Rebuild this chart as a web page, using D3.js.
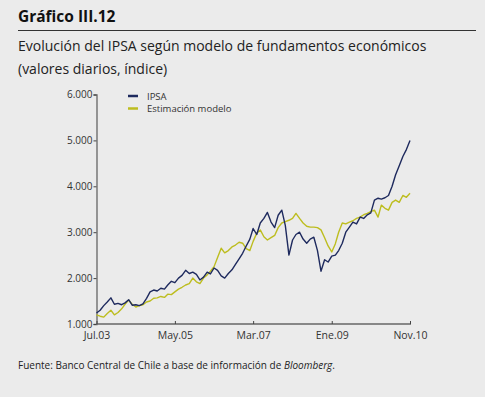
<!DOCTYPE html>
<html><head><meta charset="utf-8">
<script src="https://cdn.jsdelivr.net/npm/d3@7"></script>
<style>
html,body{margin:0;padding:0;background:#ebebeb;}
svg{display:block;font-family:"Open Sans",sans-serif;}
</style></head>
<body>
<svg id="c" width="485" height="397"></svg>
<script>
const startMonth = "2003-07";
const ipsa = [1240,1300,1400,1480,1570,1430,1450,1420,1460,1530,1410,1420,1400,1440,1560,1700,1740,1720,1780,1760,1850,1930,1900,2000,2060,2170,2100,2130,2080,1960,2020,2130,2090,2220,2170,2050,2000,2100,2180,2300,2420,2540,2700,2850,3080,2950,3200,3300,3430,3220,3100,3370,3480,3150,2500,2830,2950,3000,2850,2760,2850,2890,2600,2150,2400,2350,2480,2500,2600,2760,3000,3110,3220,3180,3330,3300,3380,3420,3700,3740,3720,3750,3800,4000,4250,4450,4650,4800,5000];
const modelo = [1200,1170,1150,1230,1300,1200,1250,1330,1430,1520,1430,1370,1400,1420,1480,1500,1560,1570,1600,1580,1650,1640,1700,1760,1800,1850,1880,2000,1920,1880,2000,2070,2150,2250,2450,2650,2550,2600,2680,2720,2780,2760,2640,2600,2800,2980,3050,2900,2830,2880,2930,3100,3200,3230,3260,3300,3410,3300,3200,3130,3110,3110,3100,3050,2880,2700,2570,2750,3000,3200,3180,3220,3250,3300,3330,3380,3410,3450,3480,3330,3590,3520,3480,3650,3700,3650,3800,3760,3850];
const seriesNames = ["IPSA","Estimación modelo"];
const yTicks = [1000,2000,3000,4000,5000,6000];
const xTickDates = ["2003-07","2005-05","2007-03","2009-01","2010-11"];
const monthAbbr = ["Ene","Feb","Mar","Abr","May","Jun","Jul","Ago","Sep","Oct","Nov","Dic"];
const colors = ["#1e2a5e","#bdbd1f"];

const svg = d3.select("#c");
const parse = d3.timeParse("%Y-%m");
const t0 = parse(startMonth);
const dates = ipsa.map((_,i)=>d3.timeMonth.offset(t0,i));

// header
svg.append("text").attr("x",18).attr("y",22).attr("font-size",15.5).attr("font-weight","bold").attr("fill","#111").text("Gráfico III.12");
svg.append("line").attr("x1",18).attr("x2",476).attr("y1",30.5).attr("y2",30.5).attr("stroke","#333").attr("stroke-width",1);
svg.append("text").attr("x",18).attr("y",51).attr("font-size",14).attr("fill","#222").text("Evolución del IPSA según modelo de fundamentos económicos");
svg.append("text").attr("x",18).attr("y",74).attr("font-size",14).attr("fill","#222").text("(valores diarios, índice)");

const x = d3.scaleTime().domain([t0, parse("2010-11")]).range([96.5,410]);
const y = d3.scaleLinear().domain([1000,6000]).range([324,94.5]);

// y axis
const ya = svg.append("g").attr("transform","translate(96.5,0)")
  .call(d3.axisLeft(y).tickValues(yTicks).tickSize(3).tickFormat(d=>d3.format(",")(d).replace(/,/g,".")));
ya.select(".domain").attr("stroke","#666").attr("stroke-width",1.3);
ya.selectAll(".tick line").attr("stroke","#444");
ya.selectAll("text").attr("font-size",10).attr("fill","#333").attr("font-family","Open Sans, sans-serif").attr("x",-4);

// x axis
const xa = svg.append("g").attr("transform","translate(0,324)")
  .call(d3.axisBottom(x).tickValues(xTickDates.map(parse)).tickSize(-3).tickPadding(8)
    .tickFormat(d=>monthAbbr[d.getMonth()]+"."+String(d.getFullYear()).slice(2)));
xa.select(".domain").attr("stroke","#666").attr("stroke-width",1.3).attr("d","M96.5,0H411");
xa.selectAll(".tick line").attr("stroke","#444");
xa.selectAll("text").attr("font-size",10.5).attr("fill","#333").attr("font-family","Open Sans, sans-serif");

const line = d3.line().x((d,i)=>x(dates[i])).y(d=>y(d));
[modelo, ipsa].forEach((s,k)=>{
  svg.append("path").datum(s).attr("d",line).attr("fill","none")
    .attr("stroke", k===0?colors[1]:colors[0]).attr("stroke-width",1.4).attr("stroke-linejoin","round");
});

// legend
seriesNames.forEach((n,i)=>{
  const ly = 96 + i*12.5;
  svg.append("line").attr("x1",128).attr("x2",138).attr("y1",ly).attr("y2",ly).attr("stroke",colors[i]).attr("stroke-width",2.5);
  svg.append("text").attr("x",147).attr("y",ly+3.5).attr("font-size",9.5).attr("fill","#333").text(n);
});

// source
const src = svg.append("text").attr("x",18).attr("y",369).attr("font-size",10).attr("fill","#222");
src.append("tspan").text("Fuente: Banco Central de Chile a base de información de ");
src.append("tspan").attr("font-style","italic").text("Bloomberg");
src.append("tspan").text(".");
</script>
</body></html>
